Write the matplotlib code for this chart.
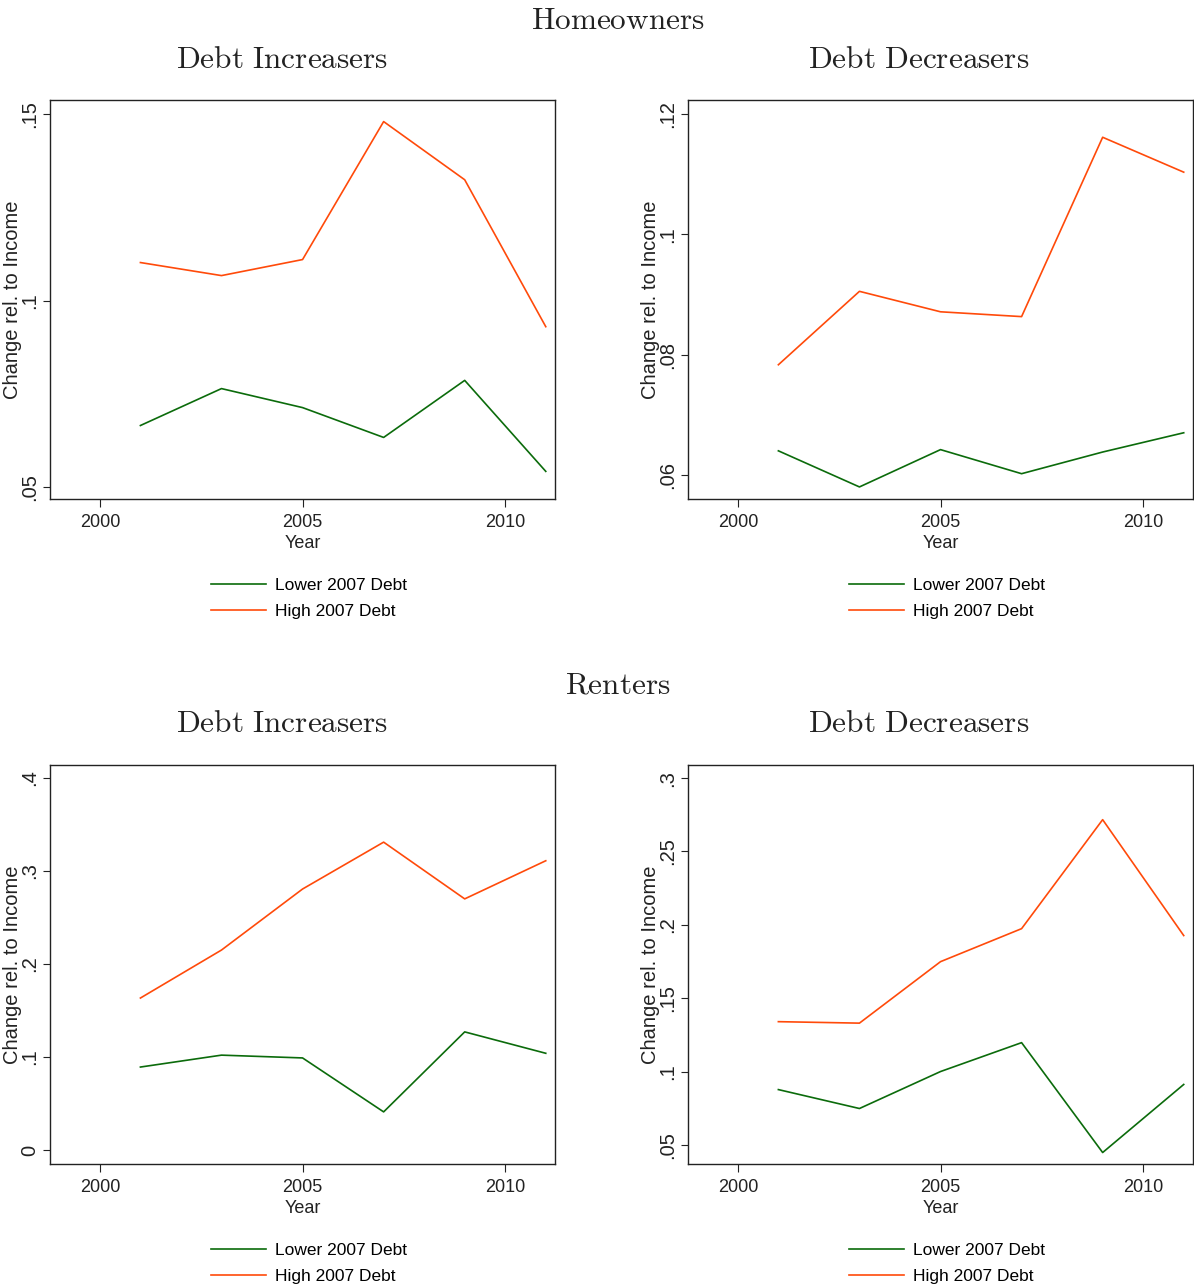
import numpy as np
import matplotlib
matplotlib.use("Agg")
import matplotlib.pyplot as plt
from matplotlib.font_manager import FontProperties
from matplotlib.ticker import FuncFormatter

years = [2001, 2003, 2005, 2007, 2009, 2011]

# homeowners
own_inc_low = [0.0665, 0.0764, 0.0713, 0.0633, 0.0786, 0.0542]
own_inc_high = [0.1102, 0.1067, 0.1110, 0.1480, 0.1324, 0.0930]
own_dec_low = [0.0640, 0.0580, 0.0642, 0.0602, 0.0638, 0.0670]
own_dec_high = [0.0783, 0.0905, 0.0871, 0.0863, 0.1161, 0.1103]

# renters
rent_inc_low = [0.0892, 0.1020, 0.0990, 0.0410, 0.1270, 0.1040]
rent_inc_high = [0.1634, 0.2150, 0.2806, 0.3310, 0.2700, 0.3110]
rent_dec_low = [0.0877, 0.0748, 0.1000, 0.1197, 0.0448, 0.0912]
rent_dec_high = [0.1340, 0.1330, 0.1749, 0.1974, 0.2717, 0.1927]

labels = ["Lower 2007 Debt", "High 2007 Debt"]
xticks = [2000, 2005, 2010]

plt.rcParams["font.family"] = ["Liberation Sans", "DejaVu Sans"]
plt.rcParams["mathtext.fontset"] = "cm"

tick_fp = FontProperties(family="Liberation Sans", size=13)
leg_fp = FontProperties(family="Liberation Sans", size=12.5)

GREEN = "#0b6b0b"
ORANGE = "#ff4a0a"
INK = "#222222"

def nolead(v, pos):
    s = "%g" % round(v, 4)
    if s.startswith("0."):
        s = s[1:]
    return s

panels = [
    # left, bottom, low, high, ylim, yticks
    (0.0419, 0.6126, own_inc_low, own_inc_high, (0.0468, 0.1538), [0.05, 0.1, 0.15]),
    (0.5762, 0.6126, own_dec_low, own_dec_high, (0.0560, 0.1223), [0.06, 0.08, 0.1, 0.12]),
    (0.0419, 0.0963, rent_inc_low, rent_inc_high, (-0.015, 0.414), [0, 0.1, 0.2, 0.3, 0.4]),
    (0.5762, 0.0963, rent_dec_low, rent_dec_high, (0.037, 0.309), [0.05, 0.1, 0.15, 0.2, 0.25, 0.3]),
]

fig = plt.figure(figsize=(11.94, 12.88), dpi=100)

for left, bottom, low, high, ylim, yt in panels:
    ax = fig.add_axes([left, bottom, 0.423, 0.3098])
    ax.plot(years, low, color=GREEN, lw=1.2, label=labels[0])
    ax.plot(years, high, color=ORANGE, lw=1.2, label=labels[1])
    ax.set_xlim(1998.77, 2011.23)
    ax.set_ylim(*ylim)
    ax.set_xticks(xticks)
    ax.set_yticks(yt)
    ax.yaxis.set_major_formatter(FuncFormatter(nolead))
    for s in ax.spines.values():
        s.set_linewidth(1.0)
        s.set_color(INK)
    ax.tick_params(axis="x", direction="out", length=6, width=0.8, color=INK,
                   pad=5, labelcolor=INK)
    ax.tick_params(axis="y", direction="out", length=5, width=0.8, color=INK,
                   labelsize=14.5, pad=3, labelcolor=INK, labelrotation=90)
    for t in ax.get_xticklabels():
        t.set_fontproperties(tick_fp)
    for t in ax.get_yticklabels():
        t.set_verticalalignment("center")
    ax.set_xlabel("Year", fontproperties=tick_fp, color=INK, labelpad=3)
    ax.set_ylabel("Change rel. to Income", fontsize=14.5, color=INK)
    ax.yaxis.set_label_coords(-0.056, 0.5)
    ax.legend(loc="upper left", bbox_to_anchor=(0.318, -0.197), frameon=False,
              prop=leg_fp, handlelength=3.2,
              handletextpad=0.5, labelspacing=0.65, borderpad=0, borderaxespad=0)

# group and panel titles
TS = 22.5
fig.text(0.5176, 1 - 21 / 1288, r"$\mathrm{Homeowners}$", ha="center", va="center", fontsize=TS, color=INK)
fig.text(0.2362, 1 - 60 / 1288, r"$\mathrm{Debt\ Increasers}$", ha="center", va="center", fontsize=TS, color=INK)
fig.text(0.7697, 1 - 60 / 1288, r"$\mathrm{Debt\ Decreasers}$", ha="center", va="center", fontsize=TS, color=INK)
fig.text(0.5176, 1 - 685 / 1288, r"$\mathrm{Renters}$", ha="center", va="center", fontsize=TS, color=INK)
fig.text(0.2362, 1 - 724 / 1288, r"$\mathrm{Debt\ Increasers}$", ha="center", va="center", fontsize=TS, color=INK)
fig.text(0.7697, 1 - 724 / 1288, r"$\mathrm{Debt\ Decreasers}$", ha="center", va="center", fontsize=TS, color=INK)

fig.savefig("out.png", dpi=100)
